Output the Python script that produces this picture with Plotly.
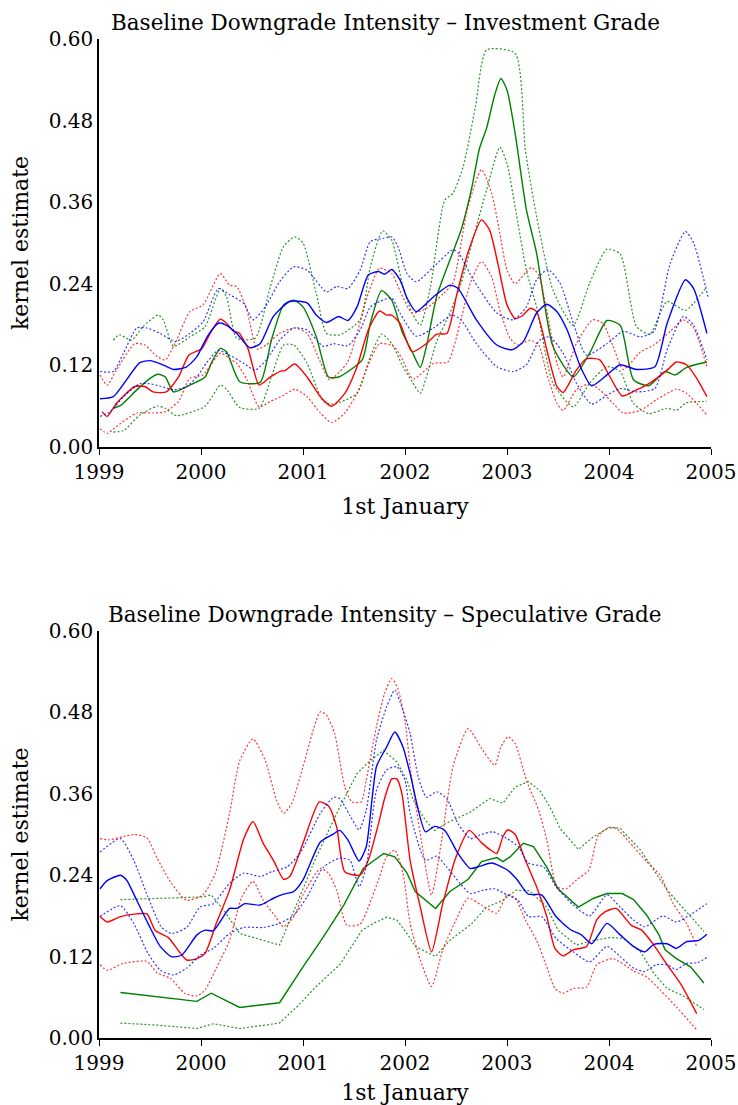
import plotly.graph_objects as go

# ---------------- data: (year, kernel estimate) ----------------
IG_BLUE_MID = [(1999.01,0.071),(1999.14,0.074),(1999.40,0.124),(1999.50,0.127),(1999.61,0.122),(1999.73,0.114),(1999.86,0.118),(1999.96,0.133),(2000.06,0.162),(2000.17,0.182),(2000.25,0.179),(2000.35,0.167),(2000.48,0.146),(2000.58,0.152),(2000.71,0.192),(2000.87,0.214),(2001.04,0.212),(2001.13,0.194),(2001.23,0.183),(2001.35,0.192),(2001.44,0.186),(2001.53,0.206),(2001.64,0.253),(2001.74,0.258),(2001.80,0.254),(2001.87,0.261),(2001.95,0.246),(2002.02,0.219),(2002.11,0.199),(2002.28,0.221),(2002.44,0.238),(2002.52,0.233),(2002.70,0.187),(2002.90,0.150),(2003.05,0.143),(2003.16,0.155),(2003.29,0.197),(2003.39,0.210),(2003.49,0.199),(2003.59,0.172),(2003.72,0.118),(2003.83,0.090),(2003.98,0.106),(2004.11,0.121),(2004.27,0.114),(2004.45,0.118),(2004.57,0.182),(2004.75,0.246),(2004.83,0.233),(2004.96,0.167)]
IG_BLUE_HI = [(1999.01,0.111),(1999.14,0.111),(1999.24,0.138),(1999.37,0.175),(1999.47,0.175),(1999.60,0.167),(1999.75,0.155),(1999.89,0.167),(2000.02,0.184),(2000.17,0.233),(2000.28,0.224),(2000.42,0.211),(2000.51,0.187),(2000.63,0.206),(2000.77,0.243),(2000.91,0.265),(2001.04,0.260),(2001.23,0.228),(2001.33,0.236),(2001.44,0.233),(2001.56,0.260),(2001.66,0.302),(2001.79,0.307),(2001.87,0.309),(2001.93,0.295),(2002.02,0.255),(2002.11,0.243),(2002.28,0.265),(2002.47,0.290),(2002.53,0.284),(2002.67,0.246),(2002.90,0.197),(2003.06,0.187),(2003.19,0.206),(2003.29,0.246),(2003.40,0.261),(2003.52,0.241),(2003.65,0.182),(2003.78,0.135),(2003.98,0.152),(2004.14,0.170),(2004.31,0.162),(2004.44,0.170),(2004.60,0.270),(2004.75,0.317),(2004.83,0.300),(2004.97,0.221)]
IG_BLUE_LO = [(1999.01,0.045),(1999.11,0.052),(1999.24,0.074),(1999.40,0.093),(1999.50,0.093),(1999.61,0.089),(1999.73,0.084),(1999.86,0.089),(1999.96,0.103),(2000.06,0.125),(2000.17,0.142),(2000.28,0.135),(2000.42,0.123),(2000.53,0.113),(2000.64,0.128),(2000.77,0.157),(2000.91,0.175),(2001.04,0.172),(2001.20,0.148),(2001.30,0.152),(2001.44,0.149),(2001.56,0.172),(2001.66,0.206),(2001.75,0.214),(2001.87,0.219),(2001.95,0.197),(2002.11,0.163),(2002.28,0.175),(2002.46,0.194),(2002.55,0.187),(2002.70,0.152),(2002.90,0.118),(2003.06,0.111),(2003.19,0.121),(2003.32,0.157),(2003.42,0.162),(2003.55,0.138),(2003.68,0.094),(2003.83,0.063),(2003.98,0.076),(2004.11,0.086),(2004.27,0.081),(2004.45,0.086),(2004.57,0.143),(2004.73,0.192),(2004.83,0.179),(2004.96,0.128)]
IG_RED_MID = [(1999.03,0.052),(1999.08,0.045),(1999.17,0.064),(1999.35,0.089),(1999.45,0.089),(1999.53,0.081),(1999.66,0.081),(1999.78,0.103),(1999.88,0.135),(2000.01,0.145),(2000.10,0.170),(2000.19,0.188),(2000.25,0.182),(2000.32,0.170),(2000.37,0.168),(2000.46,0.145),(2000.57,0.091),(2000.68,0.103),(2000.79,0.112),(2000.82,0.112),(2000.92,0.122),(2001.04,0.103),(2001.17,0.074),(2001.28,0.060),(2001.41,0.079),(2001.53,0.118),(2001.64,0.172),(2001.75,0.200),(2001.82,0.194),(2001.87,0.194),(2001.95,0.182),(2002.07,0.140),(2002.21,0.152),(2002.31,0.166),(2002.41,0.167),(2002.51,0.226),(2002.62,0.287),(2002.75,0.334),(2002.83,0.319),(2002.91,0.270),(2003.00,0.209),(2003.08,0.189),(2003.15,0.193),(2003.23,0.204),(2003.29,0.199),(2003.39,0.143),(2003.49,0.089),(2003.55,0.080),(2003.68,0.113),(2003.78,0.130),(2003.91,0.128),(2004.01,0.103),(2004.13,0.075),(2004.27,0.084),(2004.40,0.094),(2004.57,0.113),(2004.66,0.125),(2004.76,0.121),(2004.86,0.101),(2004.96,0.074)]
IG_RED_HI = [(1999.01,0.106),(1999.08,0.091),(1999.17,0.113),(1999.35,0.152),(1999.45,0.150),(1999.57,0.133),(1999.65,0.128),(1999.76,0.157),(1999.89,0.199),(2000.02,0.209),(2000.19,0.255),(2000.28,0.238),(2000.35,0.236),(2000.45,0.201),(2000.55,0.144),(2000.64,0.150),(2000.77,0.167),(2000.92,0.175),(2001.04,0.167),(2001.17,0.125),(2001.26,0.099),(2001.43,0.123),(2001.53,0.167),(2001.64,0.226),(2001.75,0.263),(2001.87,0.255),(2001.95,0.230),(2002.07,0.197),(2002.21,0.204),(2002.38,0.226),(2002.47,0.241),(2002.61,0.349),(2002.75,0.408),(2002.85,0.373),(2002.93,0.314),(2003.00,0.260),(2003.08,0.240),(2003.19,0.258),(2003.24,0.264),(2003.31,0.253),(2003.39,0.201),(2003.49,0.123),(2003.55,0.103),(2003.68,0.152),(2003.84,0.187),(2003.94,0.182),(2004.04,0.148),(2004.14,0.114),(2004.31,0.140),(2004.44,0.150),(2004.60,0.170),(2004.73,0.187),(2004.83,0.175),(2004.96,0.118)]
IG_RED_LO = [(1999.01,0.027),(1999.08,0.020),(1999.17,0.030),(1999.37,0.050),(1999.53,0.050),(1999.65,0.052),(1999.78,0.067),(1999.89,0.101),(2000.02,0.106),(2000.19,0.138),(2000.28,0.130),(2000.35,0.123),(2000.45,0.099),(2000.57,0.059),(2000.68,0.067),(2000.81,0.076),(2000.92,0.085),(2001.04,0.074),(2001.17,0.050),(2001.28,0.036),(2001.41,0.050),(2001.53,0.079),(2001.64,0.121),(2001.75,0.152),(2001.89,0.148),(2001.97,0.130),(2002.08,0.100),(2002.28,0.123),(2002.42,0.125),(2002.54,0.182),(2002.64,0.241),(2002.75,0.273),(2002.85,0.250),(2002.93,0.201),(2003.03,0.160),(2003.10,0.150),(2003.23,0.157),(2003.31,0.150),(2003.39,0.108),(2003.49,0.064),(2003.55,0.054),(2003.68,0.084),(2003.81,0.093),(2003.91,0.084),(2004.04,0.064),(2004.14,0.050),(2004.31,0.054),(2004.47,0.070),(2004.66,0.085),(2004.76,0.079),(2004.86,0.064),(2004.96,0.047)]
IG_GREEN_MID = [(1999.14,0.057),(1999.22,0.062),(1999.37,0.084),(1999.50,0.101),(1999.58,0.107),(1999.65,0.103),(1999.73,0.081),(1999.89,0.091),(2000.04,0.103),(2000.10,0.123),(2000.19,0.145),(2000.25,0.140),(2000.38,0.096),(2000.58,0.095),(2000.69,0.157),(2000.81,0.209),(2000.91,0.216),(2001.00,0.206),(2001.13,0.162),(2001.25,0.103),(2001.35,0.103),(2001.58,0.128),(2001.66,0.182),(2001.77,0.230),(2001.87,0.216),(2001.97,0.170),(2002.07,0.140),(2002.15,0.117),(2002.21,0.148),(2002.31,0.221),(2002.44,0.275),(2002.55,0.319),(2002.65,0.378),(2002.73,0.439),(2002.80,0.469),(2002.88,0.518),(2002.94,0.542),(2003.00,0.525),(2003.08,0.461),(2003.19,0.349),(2003.29,0.285),(2003.45,0.148),(2003.65,0.103),(2003.81,0.138),(2003.98,0.186),(2004.11,0.179),(2004.24,0.099),(2004.39,0.090),(2004.55,0.111),(2004.65,0.106),(2004.76,0.117),(2004.96,0.125)]
IG_GREEN_HI = [(1999.14,0.157),(1999.20,0.165),(1999.32,0.157),(1999.43,0.177),(1999.58,0.194),(1999.63,0.187),(1999.73,0.148),(1999.89,0.162),(2000.04,0.177),(2000.19,0.233),(2000.25,0.221),(2000.35,0.160),(2000.53,0.160),(2000.68,0.236),(2000.81,0.295),(2000.92,0.309),(2001.00,0.300),(2001.13,0.226),(2001.23,0.167),(2001.36,0.165),(2001.56,0.187),(2001.66,0.265),(2001.78,0.318),(2001.87,0.304),(2001.98,0.236),(2002.07,0.197),(2002.15,0.179),(2002.25,0.236),(2002.39,0.363),(2002.47,0.373),(2002.57,0.412),(2002.69,0.500),(2002.80,0.584),(2003.08,0.579),(2003.18,0.437),(2003.29,0.339),(2003.45,0.231),(2003.65,0.179),(2003.81,0.241),(2003.98,0.291),(2004.11,0.284),(2004.27,0.177),(2004.40,0.166),(2004.57,0.214),(2004.75,0.201),(2004.96,0.236)]
IG_GREEN_LO = [(1999.14,0.022),(1999.24,0.024),(1999.40,0.047),(1999.57,0.060),(1999.65,0.057),(1999.76,0.046),(2000.04,0.060),(2000.19,0.091),(2000.25,0.085),(2000.38,0.058),(2000.57,0.057),(2000.69,0.103),(2000.81,0.150),(2000.91,0.150),(2001.04,0.123),(2001.20,0.067),(2001.30,0.063),(2001.53,0.079),(2001.66,0.133),(2001.77,0.166),(2001.87,0.152),(2001.98,0.118),(2002.07,0.096),(2002.15,0.079),(2002.21,0.103),(2002.31,0.155),(2002.44,0.197),(2002.55,0.241),(2002.69,0.319),(2002.80,0.378),(2002.93,0.441),(2003.00,0.417),(2003.08,0.353),(2003.19,0.260),(2003.29,0.206),(2003.45,0.094),(2003.65,0.059),(2003.81,0.094),(2003.98,0.118),(2004.11,0.111),(2004.24,0.064),(2004.39,0.049),(2004.57,0.057),(2004.66,0.054),(2004.76,0.065),(2004.96,0.067)]

SG_BLUE_MID = [(1999.01,0.220),(1999.08,0.232),(1999.21,0.240),(1999.27,0.233),(1999.37,0.203),(1999.48,0.169),(1999.60,0.135),(1999.71,0.120),(1999.81,0.122),(1999.96,0.152),(2000.04,0.159),(2000.12,0.158),(2000.28,0.191),(2000.35,0.191),(2000.43,0.198),(2000.58,0.196),(2000.71,0.206),(2000.81,0.212),(2000.91,0.216),(2001.00,0.233),(2001.17,0.289),(2001.30,0.301),(2001.36,0.306),(2001.44,0.292),(2001.55,0.261),(2001.62,0.282),(2001.72,0.400),(2001.82,0.429),(2001.90,0.451),(2001.98,0.429),(2002.05,0.390),(2002.20,0.304),(2002.29,0.312),(2002.39,0.306),(2002.52,0.272),(2002.64,0.250),(2002.73,0.253),(2002.85,0.258),(2003.00,0.248),(2003.09,0.235),(2003.21,0.212),(2003.34,0.211),(2003.48,0.179),(2003.62,0.160),(2003.73,0.152),(2003.83,0.139),(2003.98,0.169),(2004.11,0.152),(2004.24,0.135),(2004.35,0.127),(2004.44,0.138),(2004.57,0.139),(2004.66,0.132),(2004.76,0.142),(2004.88,0.144),(2004.96,0.153)]
SG_BLUE_HI = [(1999.01,0.274),(1999.21,0.294),(1999.34,0.262),(1999.48,0.208),(1999.61,0.164),(1999.71,0.154),(1999.86,0.163),(1999.99,0.193),(2000.12,0.198),(2000.28,0.228),(2000.42,0.243),(2000.58,0.238),(2000.69,0.245),(2000.84,0.252),(2000.97,0.272),(2001.17,0.331),(2001.30,0.355),(2001.36,0.353),(2001.46,0.328),(2001.55,0.307),(2001.62,0.336),(2001.72,0.439),(2001.82,0.488),(2001.90,0.513),(2001.98,0.483),(2002.05,0.449),(2002.13,0.385),(2002.21,0.355),(2002.31,0.363),(2002.41,0.353),(2002.52,0.316),(2002.64,0.294),(2002.73,0.299),(2002.86,0.304),(2003.00,0.294),(2003.11,0.282),(2003.21,0.258),(2003.36,0.252),(2003.48,0.223),(2003.65,0.196),(2003.81,0.180),(2003.98,0.211),(2004.11,0.193),(2004.24,0.174),(2004.35,0.164),(2004.53,0.180),(2004.66,0.171),(2004.79,0.181),(2004.96,0.198)]
SG_BLUE_LO = [(1999.01,0.179),(1999.21,0.195),(1999.34,0.169),(1999.48,0.125),(1999.60,0.100),(1999.73,0.093),(1999.86,0.103),(1999.99,0.122),(2000.12,0.132),(2000.28,0.154),(2000.42,0.163),(2000.61,0.163),(2000.77,0.169),(2000.91,0.181),(2001.04,0.208),(2001.20,0.252),(2001.36,0.265),(2001.46,0.262),(2001.55,0.223),(2001.62,0.252),(2001.72,0.365),(2001.82,0.395),(2001.92,0.400),(2002.00,0.380),(2002.05,0.331),(2002.20,0.262),(2002.31,0.268),(2002.41,0.252),(2002.54,0.228),(2002.64,0.213),(2002.77,0.218),(2002.88,0.220),(2003.00,0.211),(2003.11,0.203),(2003.21,0.179),(2003.34,0.179),(2003.48,0.147),(2003.65,0.127),(2003.81,0.112),(2003.98,0.135),(2004.11,0.120),(2004.24,0.103),(2004.35,0.098),(2004.46,0.108),(2004.57,0.108),(2004.66,0.101),(2004.76,0.110),(2004.87,0.111),(2004.96,0.119)]
SG_RED_MID = [(1999.01,0.179),(1999.08,0.171),(1999.21,0.179),(1999.37,0.183),(1999.47,0.183),(1999.55,0.159),(1999.68,0.148),(1999.86,0.115),(1999.96,0.117),(2000.04,0.125),(2000.15,0.169),(2000.28,0.218),(2000.42,0.294),(2000.51,0.319),(2000.61,0.287),(2000.71,0.262),(2000.81,0.234),(2000.87,0.238),(2001.00,0.287),(2001.16,0.348),(2001.25,0.342),(2001.33,0.311),(2001.41,0.245),(2001.56,0.240),(2001.64,0.262),(2001.74,0.316),(2001.80,0.353),(2001.87,0.382),(2001.92,0.382),(2001.97,0.360),(2002.05,0.262),(2002.15,0.193),(2002.26,0.127),(2002.37,0.198),(2002.50,0.267),(2002.63,0.306),(2002.75,0.288),(2002.83,0.278),(2002.90,0.272),(2002.96,0.297),(2003.01,0.307),(2003.08,0.300),(2003.18,0.262),(2003.29,0.223),(2003.39,0.179),(2003.47,0.132),(2003.55,0.121),(2003.65,0.130),(2003.78,0.135),(2003.88,0.174),(2003.96,0.186),(2004.07,0.191),(2004.22,0.166),(2004.32,0.159),(2004.44,0.137),(2004.57,0.108),(2004.71,0.078),(2004.86,0.036)]
SG_RED_HI = [(1999.01,0.294),(1999.09,0.292),(1999.24,0.297),(1999.35,0.300),(1999.47,0.295),(1999.57,0.265),(1999.71,0.228),(1999.86,0.203),(2000.02,0.211),(2000.14,0.243),(2000.28,0.331),(2000.38,0.409),(2000.51,0.441),(2000.63,0.409),(2000.74,0.351),(2000.81,0.331),(2000.89,0.346),(2001.00,0.400),(2001.17,0.481),(2001.23,0.476),(2001.31,0.449),(2001.41,0.370),(2001.48,0.348),(2001.57,0.348),(2001.62,0.380),(2001.72,0.459),(2001.80,0.508),(2001.87,0.530),(2001.93,0.515),(2002.00,0.468),(2002.05,0.400),(2002.15,0.301),(2002.26,0.211),(2002.36,0.292),(2002.47,0.400),(2002.62,0.456),(2002.75,0.427),(2002.88,0.402),(2002.94,0.429),(2003.01,0.444),(2003.08,0.434),(2003.19,0.380),(2003.31,0.336),(2003.39,0.292),(2003.49,0.223),(2003.58,0.220),(2003.68,0.233),(2003.80,0.247),(2003.89,0.297),(2003.98,0.309),(2004.07,0.309),(2004.24,0.282),(2004.37,0.260),(2004.50,0.240),(2004.63,0.198),(2004.76,0.169),(2004.86,0.135)]
SG_RED_LO = [(1999.01,0.108),(1999.08,0.100),(1999.24,0.110),(1999.47,0.113),(1999.57,0.096),(1999.70,0.088),(1999.84,0.066),(1999.96,0.062),(2000.04,0.071),(2000.15,0.103),(2000.28,0.144),(2000.40,0.208),(2000.51,0.231),(2000.61,0.203),(2000.73,0.179),(2000.81,0.164),(2000.91,0.179),(2001.00,0.211),(2001.17,0.250),(2001.25,0.243),(2001.33,0.218),(2001.43,0.166),(2001.56,0.168),(2001.64,0.193),(2001.74,0.233),(2001.82,0.267),(2001.90,0.277),(2001.98,0.243),(2002.05,0.169),(2002.15,0.115),(2002.26,0.076),(2002.37,0.130),(2002.50,0.174),(2002.62,0.206),(2002.75,0.196),(2002.90,0.184),(2003.00,0.211),(2003.08,0.206),(2003.18,0.174),(2003.29,0.144),(2003.39,0.105),(2003.47,0.073),(2003.55,0.066),(2003.65,0.073),(2003.78,0.075),(2003.88,0.108),(2004.04,0.117),(2004.24,0.099),(2004.37,0.090),(2004.50,0.071),(2004.66,0.046),(2004.86,0.012)]
SG_GREEN_MID = [(1999.21,0.067),(1999.57,0.061),(1999.96,0.054),(2000.10,0.066),(2000.38,0.045),(2000.77,0.052),(2001.00,0.105),(2001.20,0.149),(2001.40,0.196),(2001.59,0.250),(2001.79,0.272),(2001.90,0.267),(2002.02,0.243),(2002.10,0.216),(2002.30,0.191),(2002.44,0.216),(2002.62,0.234),(2002.75,0.260),(2002.90,0.266),(2002.96,0.260),(2003.03,0.267),(2003.16,0.287),(2003.26,0.282),(2003.39,0.252),(2003.50,0.220),(2003.70,0.193),(2003.85,0.206),(2003.98,0.213),(2004.13,0.213),(2004.24,0.204),(2004.37,0.181),(2004.49,0.152),(2004.55,0.130),(2004.66,0.117),(2004.80,0.105),(2004.93,0.081)]
SG_GREEN_HI = [(1999.21,0.204),(1999.60,0.206),(2000.02,0.208),(2000.10,0.211),(2000.22,0.189),(2000.38,0.154),(2000.61,0.144),(2000.77,0.137),(2000.94,0.198),(2001.13,0.267),(2001.33,0.331),(2001.53,0.390),(2001.66,0.409),(2001.79,0.424),(2001.92,0.407),(2002.02,0.380),(2002.08,0.351),(2002.20,0.321),(2002.29,0.306),(2002.41,0.317),(2002.64,0.333),(2002.83,0.353),(2002.96,0.346),(2003.08,0.370),(2003.21,0.378),(2003.32,0.365),(2003.42,0.341),(2003.52,0.309),(2003.70,0.278),(2003.85,0.297),(2004.01,0.311),(2004.11,0.309),(2004.31,0.277),(2004.44,0.247),(2004.57,0.218),(2004.70,0.196),(2004.93,0.157)]
SG_GREEN_LO = [(1999.21,0.022),(1999.57,0.019),(1999.96,0.014),(2000.12,0.021),(2000.38,0.014),(2000.77,0.022),(2000.94,0.046),(2001.13,0.076),(2001.36,0.108),(2001.58,0.159),(2001.69,0.169),(2001.82,0.178),(2001.92,0.174),(2002.02,0.154),(2002.10,0.135),(2002.30,0.120),(2002.44,0.144),(2002.65,0.168),(2002.80,0.193),(2002.96,0.203),(2003.09,0.218),(2003.22,0.217),(2003.39,0.193),(2003.50,0.159),(2003.68,0.137),(2003.85,0.144),(2004.01,0.148),(2004.14,0.147),(2004.31,0.127),(2004.44,0.095),(2004.57,0.073),(2004.73,0.062),(2004.93,0.042)]

TITLES = ["Baseline Downgrade Intensity \u2013 Investment Grade",
          "Baseline Downgrade Intensity \u2013 Speculative Grade"]
X_TITLE = "1st January"
Y_TITLE = "kernel estimate"
X_TICKS = [1999, 2000, 2001, 2002, 2003, 2004, 2005]
Y_TICKS = [0.0, 0.12, 0.24, 0.36, 0.48, 0.60]

# ---------------- styling ----------------
W, H = 738, 1105
FONT = "DejaVu Serif"
COLORS = {"red": "#ff0000", "blue": "#0000ff", "green": "#008000"}
BAND_COLORS = {"red": "rgba(255,0,0,0.8)", "blue": "rgba(0,0,255,0.8)", "green": "rgba(0,128,0,0.85)"}

panels = [
    {"xa": "x", "ya": "y", "series": [
        ("green", IG_GREEN_LO, IG_GREEN_MID, IG_GREEN_HI),
        ("red", IG_RED_LO, IG_RED_MID, IG_RED_HI),
        ("blue", IG_BLUE_LO, IG_BLUE_MID, IG_BLUE_HI)]},
    {"xa": "x2", "ya": "y2", "series": [
        ("green", SG_GREEN_LO, SG_GREEN_MID, SG_GREEN_HI),
        ("red", SG_RED_LO, SG_RED_MID, SG_RED_HI),
        ("blue", SG_BLUE_LO, SG_BLUE_MID, SG_BLUE_HI)]},
]

fig = go.Figure()
for pi, p in enumerate(panels):
    for name, lo, mid, hi in p["series"]:
        shape = "linear" if (pi == 1 and name == "green") else "spline"
        for band in (lo, hi):
            xs, ys = zip(*band)
            fig.add_trace(go.Scatter(x=xs, y=ys, mode="lines", xaxis=p["xa"], yaxis=p["ya"],
                                     line=dict(color=BAND_COLORS[name], width=1.2, dash="2px,2px",
                                               shape=shape, smoothing=0.6),
                                     showlegend=False, hoverinfo="skip"))
        xs, ys = zip(*mid)
        fig.add_trace(go.Scatter(x=xs, y=ys, mode="lines", xaxis=p["xa"], yaxis=p["ya"],
                                 line=dict(color=COLORS[name], width=1.4, shape=shape, smoothing=0.6),
                                 showlegend=False))

def px_domain_y(top, bottom):
    return [1 - bottom / H, 1 - top / H]

xdom = [99 / W, 711 / W]
tick_font = dict(family=FONT, size=20, color="black")
label_font = dict(family=FONT, size=22, color="black")

common_x = dict(range=[1999, 2005], tickvals=X_TICKS, tickformat="d", showgrid=False, zeroline=False,
                showline=True, linecolor="black", linewidth=1.5, ticks="outside", ticklen=6,
                tickwidth=1, tickcolor="black", tickfont=tick_font, automargin=False,
                title=dict(text=X_TITLE, font=label_font, standoff=16))
common_y = dict(range=[0, 0.6], tickvals=Y_TICKS, tickformat=".2f", showgrid=False, zeroline=False,
                showline=True, linecolor="black", linewidth=1.5, ticks="", tickfont=tick_font,
                automargin=False, title=dict(text=Y_TITLE, font=label_font, standoff=14))

fig.update_layout(
    width=W, height=H,
    margin=dict(l=0, r=0, t=0, b=0),
    paper_bgcolor="white", plot_bgcolor="white",
    font=dict(family=FONT, color="black"),
    xaxis=dict(domain=xdom, anchor="y", **common_x),
    yaxis=dict(domain=px_domain_y(39, 447), anchor="x", **common_y),
    xaxis2=dict(domain=xdom, anchor="y2", **common_x),
    yaxis2=dict(domain=px_domain_y(631, 1038), anchor="x2", **common_y),
    annotations=[
        dict(text=TITLES[0], x=385 / W, y=1 - 22 / H, xref="paper", yref="paper",
             showarrow=False, font=dict(family=FONT, size=21.5, color="black"), xanchor="center", yanchor="middle"),
        dict(text=TITLES[1], x=385 / W, y=1 - 614 / H, xref="paper", yref="paper",
             showarrow=False, font=dict(family=FONT, size=21.5, color="black"), xanchor="center", yanchor="middle"),
    ],
)

fig.write_html("out.html", config={"displayModeBar": False},
               post_script="document.body.style.margin='0px';document.body.style.overflow='hidden';")
